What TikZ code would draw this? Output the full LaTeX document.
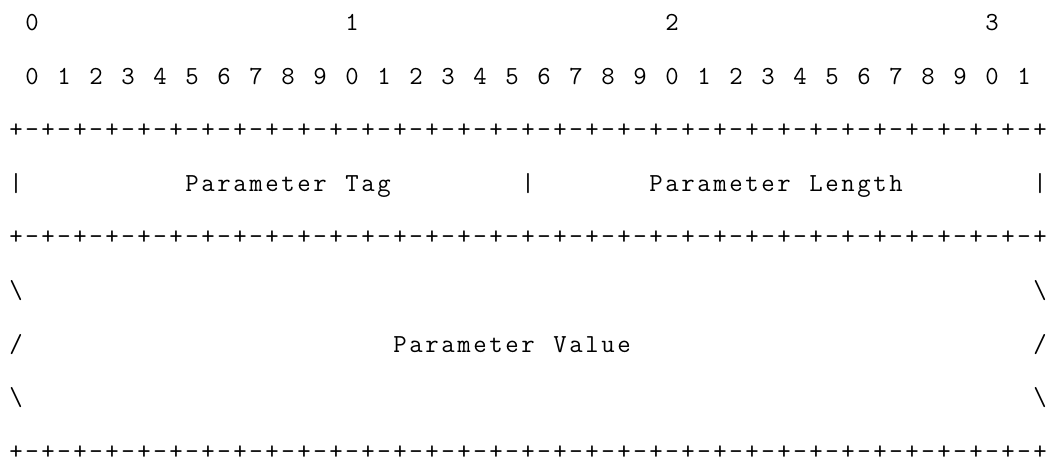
\documentclass[tikz,border=0pt]{standalone}
\usepackage{fontspec}
\begin{document}
\begin{tikzpicture}[x=0.5pt,y=-0.5pt,
  ch/.style={font=\ttfamily\fontsize{13}{15}\selectfont, inner sep=0pt, outer sep=0pt, anchor=base, text=black}]
\useasboundingbox (0,0) rectangle (1048,463);
\newcommand\rowy[1]{30.5+53.6*#1}
\newcommand\rowtext[3]{%
  \foreach \ch [count=\i from 0] in {#3} {
    \pgfmathtruncatemacro\cc{#2+\i}
    \node[ch] (r#1c\cc) at ({16+16*\cc},{\rowy{#1}}) {\ch};
  }}
\newcommand\rulerow[1]{%
  \foreach \c in {0,...,64} {
    \pgfmathtruncatemacro\e{mod(\c,2)}
    \ifnum\e=0
      \node[ch] (r#1c\c) at ({16+16*\c},{\rowy{#1}}) {+};
    \else
      \node[ch] (r#1c\c) at ({16+16*\c},{\rowy{#1}}) {-};
    \fi
  }}
% row 0: byte-group numbers
\foreach \c/\t in {1/0,21/1,41/2,61/3}
  \node[ch] (r0c\c) at ({16+16*\c},{\rowy{0}}) {\t};
% row 1: bit numbers
\foreach \k in {0,...,31}{
  \pgfmathtruncatemacro\d{mod(\k,10)}
  \pgfmathtruncatemacro\cc{1+2*\k}
  \node[ch] (r1c\cc) at ({16+16*\cc},{\rowy{1}}) {\d};
}
% row 2: rule
\rulerow{2}
% row 3: tag / length
\foreach \c in {0,32,64}
  \node[ch] (r3c\c) at ({16+16*\c},{\rowy{3}}) {|};
\rowtext{3}{11}{P,a,r,a,m,e,t,e,r}
\rowtext{3}{21}{T,a,g}
\rowtext{3}{40}{P,a,r,a,m,e,t,e,r}
\rowtext{3}{50}{L,e,n,g,t,h}
% row 4: rule
\rulerow{4}
% rows 5-7: value
\foreach \c in {0,64}{
  \node[ch] (r5c\c) at ({16+16*\c},{\rowy{5}}) {\textbackslash};
  \node[ch] (r6c\c) at ({16+16*\c},{\rowy{6}}) {/};
  \node[ch] (r7c\c) at ({16+16*\c},{\rowy{7}}) {\textbackslash};
}
\rowtext{6}{24}{P,a,r,a,m,e,t,e,r}
\rowtext{6}{34}{V,a,l,u,e}
% row 8: rule
\rulerow{8}
\end{tikzpicture}
\end{document}
